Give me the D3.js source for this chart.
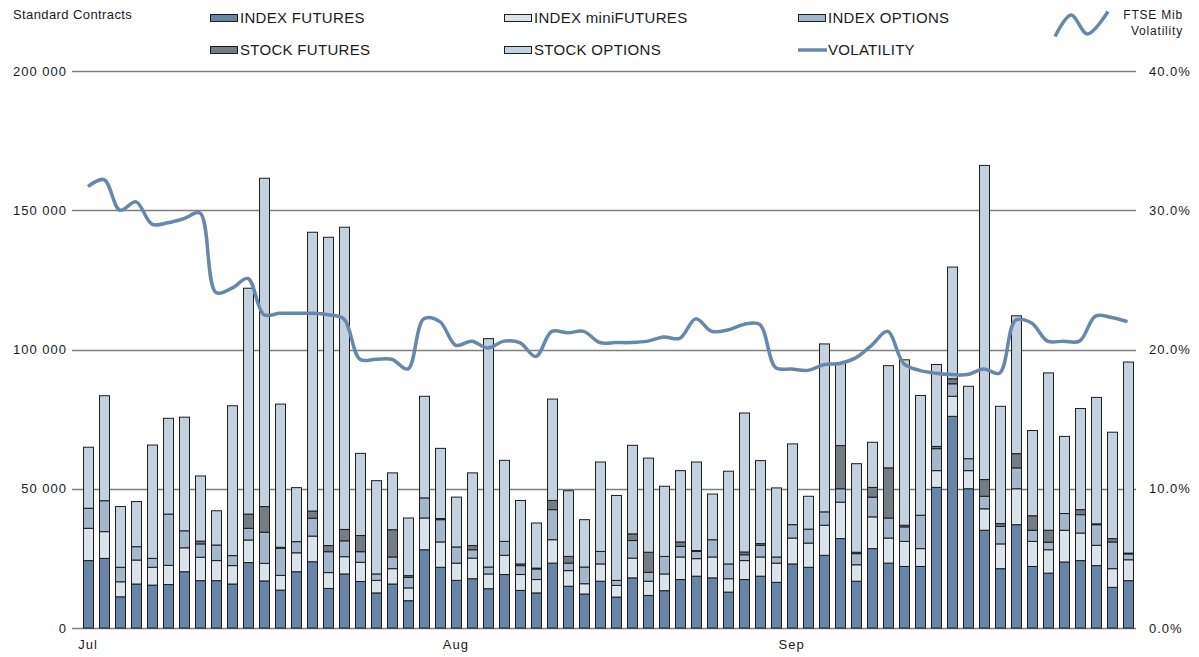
<!DOCTYPE html>
<html>
<head>
<meta charset="utf-8">
<script src="https://cdn.jsdelivr.net/npm/d3@7"></script>
<style>
  body { margin: 0; background: #fff; }
  svg { display: block; font-family: "Liberation Sans", Arial, sans-serif; }
  .tick-label { font-size: 13px; letter-spacing: 1px; fill: #1a1a1a; }
  .legend text { font-size: 15px; letter-spacing: 0.3px; fill: #1a1a1a; }
</style>
</head>
<body>
<div id="chart"></div>
<script>
// daily values, thousand contracts
const indexFutures = [24.2,25.0,11.2,15.8,15.4,15.6,20.2,17.0,17.0,15.8, 23.5,16.9,13.6,20.2,23.8,14.2,19.4,16.7,12.6,15.8,
  9.8,28.1,21.8,17.1,17.7,14.1,19.2,13.5,12.6,23.3, 15.0,12.2,16.8,11.1,18.0,11.7,13.4,17.4,18.6,18.0,
  12.9,17.4,18.6,16.4,23.0,21.8,26.1,32.1,16.8,28.5, 23.3,22.1,22.1,50.5,76.0,50.0,35.1,21.3,37.1,22.1,
  19.7,23.7,24.2,22.4,14.6,17.0];
const indexMiniFutures = [11.6,9.6,5.4,8.6,6.4,6.9,8.6,8.4,7.2,6.6, 8.1,6.3,5.3,6.8,9.2,5.7,6.2,6.9,4.5,5.5,
  4.6,11.4,9.1,6.2,7.4,5.3,6.9,5.7,4.8,8.4, 5.6,3.7,6.2,4.2,7.1,5.1,6.0,8.1,6.3,7.5,
  4.8,6.8,6.9,6.9,9.3,8.7,10.8,13.1,5.9,11.4, 9.0,9.0,6.4,6.0,7.2,6.5,7.7,8.9,12.9,9.0,
  8.4,11.4,9.9,7.3,6.7,7.5];
const indexOptions = [7.2,11.1,5.2,4.8,3.2,18.4,6.1,4.8,5.6,3.6, 4.2,11.2,9.7,4.0,6.4,7.5,5.7,3.8,2.3,4.2,
  3.8,7.2,8.0,5.8,3.0,2.5,5.0,3.2,3.8,10.8, 2.7,6.0,4.5,1.8,6.3,3.2,6.3,3.8,2.6,6.2,
  5.3,2.1,4.2,2.2,4.8,5.0,4.8,4.8,4.0,7.1, 7.2,5.2,12.0,7.9,4.5,4.3,4.5,6.3,7.5,4.0,
  2.7,6.0,6.6,7.4,9.6,2.1];
const stockFutures = [0,0,0,0,0,0,0,1.0,0,0, 5.1,9.2,0.4,0,2.6,2.2,4.1,5.8,0,9.8,
  0.6,0,0.4,0,1.5,0,0,0.6,0.3,3.3, 2.4,0,0,0,2.4,7.2,0,1.6,0.3,0,
  0,1.0,0.6,0,0,0,0,15.5,0.5,3.5, 18.0,0.6,0,0.8,1.8,0,6.0,1.0,5.1,5.2,
  4.3,0,1.8,0.3,1.2,0.3];
const stockOptions = [21.9,37.7,21.8,16.2,40.7,34.4,40.8,23.4,12.3,53.8, 81.1,117.9,51.4,19.4,100.1,110.7,108.5,29.5,33.5,20.4,
  20.7,36.5,25.2,17.9,26.1,82.0,29.1,22.8,16.2,36.4, 23.6,17.0,32.1,30.5,31.8,33.8,25.2,25.6,31.8,16.4,
  33.3,49.9,29.8,24.8,29.0,11.8,60.3,29.7,31.8,16.2, 36.7,59.4,43.0,29.4,40.1,26.0,112.8,42.1,49.5,30.6,
  56.5,27.7,36.3,45.4,38.2,68.6];
// FTSE Mib volatility, percent
const volatility = [31.7,32.2,30.0,30.6,29.0,29.1,29.4,29.8,24.1,24.4, 25.1,22.5,22.6,22.6,22.6,22.5,22.2,19.3,19.3,19.3,
  18.6,22.2,22.0,20.3,20.6,20.1,20.6,20.5,19.5,21.3, 21.2,21.3,20.5,20.5,20.5,20.6,20.9,20.8,22.2,21.3,
  21.4,21.8,21.8,18.7,18.6,18.5,18.9,19.0,19.4,20.3, 21.3,19.0,18.5,18.3,18.2,18.2,18.6,18.3,22.1,21.9,
  20.6,20.6,20.6,22.4,22.3,22.0];

const monthStarts = [0, 23, 44];
const monthLabels = ["Jul", "Aug", "Sep"];
const leftTicks = [0, 50, 100, 150, 200];
const rightTicks = [0, 10, 20, 30, 40];

const seriesKeys = ["INDEX FUTURES", "INDEX miniFUTURES", "INDEX OPTIONS", "STOCK FUTURES", "STOCK OPTIONS"];
const seriesValues = [indexFutures, indexMiniFutures, indexOptions, stockFutures, stockOptions];
const colors = ["#6884a8", "#dbe3ea", "#a6b7cc", "#757c84", "#c4d2df"];
const lineColor = "#6787ad";

const width = 1199, height = 657;
const days = d3.range(indexFutures.length);
const rows = days.map(i => {
  const r = {day: i};
  seriesKeys.forEach((k, j) => r[k] = seriesValues[j][i]);
  return r;
});

const x = d3.scaleBand().domain(days).range([80, 1135.5]).paddingInner(0.375).paddingOuter(0.1875);
const y = d3.scaleLinear().domain([0, 200]).range([628, 71]);
const y2 = d3.scaleLinear().domain([0, 40]).range([628, 71]);
const z = d3.scaleOrdinal(seriesKeys, colors);

const svg = d3.select("#chart").append("svg").attr("width", width).attr("height", height);

// gridlines
svg.append("g").selectAll("line").data(leftTicks).enter().append("line")
  .attr("x1", 72).attr("x2", 1136)
  .attr("y1", d => Math.round(y(d)) + 0.5).attr("y2", d => Math.round(y(d)) + 0.5)
  .attr("stroke", "#7f7f7f").attr("stroke-width", 1.3);

const fmtK = d => d3.format(",")(d * 1000).replace(/,/g, " ");
const gLeft = svg.append("g").attr("transform", "translate(80,0)")
  .call(d3.axisLeft(y).tickValues(leftTicks).tickFormat(fmtK).tickSize(0).tickPadding(13));
const gRight = svg.append("g").attr("transform", "translate(1136,0)")
  .call(d3.axisRight(y2).tickValues(rightTicks).tickFormat(d => d.toFixed(1) + "%").tickSize(0).tickPadding(13));
const gBottom = svg.append("g").attr("transform", "translate(0,628)")
  .call(d3.axisBottom(x).tickValues(monthStarts).tickFormat((d, i) => monthLabels[i]).tickSize(0).tickPadding(12));
[gLeft, gRight, gBottom].forEach(g => {
  g.select(".domain").remove();
  g.selectAll("text").attr("class", "tick-label").attr("font-size", null).attr("font-family", null);
});

// stacked bars
const stacked = d3.stack().keys(seriesKeys)(rows);
svg.append("g").selectAll("g").data(stacked).enter().append("g")
    .attr("fill", d => z(d.key))
  .selectAll("rect").data(d => d).enter().append("rect")
    .attr("x", d => Math.round(x(d.data.day)) + 0.5)
    .attr("width", 10)
    .attr("y", d => y(d[1]))
    .attr("height", d => y(d[0]) - y(d[1]))
    .attr("stroke", "#1e1e1e")
    .attr("stroke-width", 1);

// volatility line
const line = d3.line()
  .curve(d3.curveCatmullRom.alpha(0.5))
  .x(d => x(d) + x.bandwidth() / 2)
  .y(d => y2(volatility[d]));
svg.append("path").datum(days)
  .attr("d", line)
  .attr("fill", "none")
  .attr("stroke", lineColor)
  .attr("stroke-width", 3.5);

// header texts
svg.append("text").attr("x", 13).attr("y", 19)
  .attr("font-size", 13).attr("letter-spacing", 0.4).attr("fill", "#1a1a1a").text("Standard Contracts");

const legend = svg.append("g").attr("class", "legend");
const legendPos = [[210, 0], [504, 0], [798, 0], [210, 1], [504, 1]];
seriesKeys.forEach((k, i) => {
  const [lx, row] = legendPos[i];
  const cy = 18 + row * 32;
  legend.append("rect").attr("x", lx + 0.5).attr("y", cy - 3.5).attr("width", 27).attr("height", 7)
    .attr("fill", z(k)).attr("stroke", "#1e1e1e").attr("stroke-width", 1);
  legend.append("text").attr("x", lx + 30).attr("y", cy + 5).text(k);
});
legend.append("line").attr("x1", 798).attr("x2", 827).attr("y1", 50).attr("y2", 50)
  .attr("stroke", lineColor).attr("stroke-width", 3.5);
legend.append("text").attr("x", 828).attr("y", 55).text("VOLATILITY");

// volatility badge top right
const wave = [[1055, 36.5], [1071, 15], [1087.5, 34], [1108, 11.5]];
svg.append("path").datum(wave)
  .attr("d", d3.line().curve(d3.curveCatmullRom.alpha(0.5)))
  .attr("fill", "none").attr("stroke", lineColor).attr("stroke-width", 3.5);
svg.append("text").attr("x", 1183).attr("y", 19).attr("text-anchor", "end")
  .attr("font-size", 12).attr("letter-spacing", 0.8).attr("fill", "#1a1a1a").text("FTSE Mib");
svg.append("text").attr("x", 1183).attr("y", 35).attr("text-anchor", "end")
  .attr("font-size", 12).attr("letter-spacing", 0.8).attr("fill", "#1a1a1a").text("Volatility");
</script>
</body>
</html>
